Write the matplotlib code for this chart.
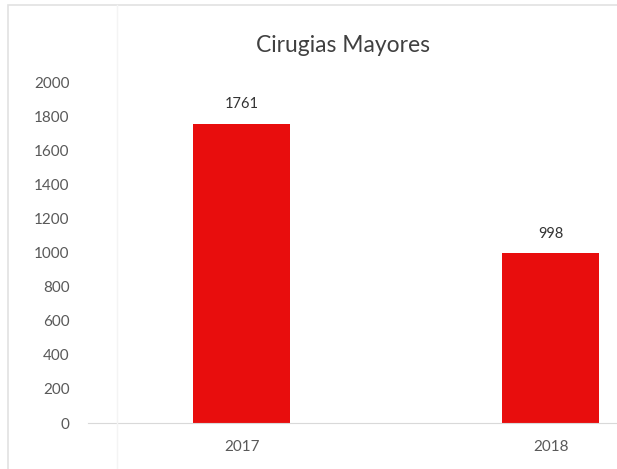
import matplotlib.pyplot as plt
from matplotlib.patches import Rectangle

years = ["2017", "2018"]
values = [1761, 998]
yticks = [0, 200, 400, 600, 800, 1000, 1200, 1400, 1600, 1800, 2000]

plt.rcParams['font.family'] = ['Lato', 'DejaVu Sans']

fig = plt.figure(figsize=(6.17, 4.69), dpi=100)
ax = fig.add_axes([87.5 / 617, 1 - 423 / 469, 1 - 87.5 / 617, (423 - 83) / 469])

x = list(range(len(years)))
bars = ax.bar(x, values, width=0.314, color="#e80d0d")
for b, v in zip(bars, values):
    ax.text(b.get_x() + b.get_width() / 2, v + 75, str(v), ha="center", va="bottom",
            fontsize=10.5, color="#333333")

ax.set_xlim(-0.5, 1.214)
ax.set_ylim(0, 2000)
ax.set_yticks(yticks)
ax.set_xticks(x)
ax.set_xticklabels(years)
ax.tick_params(axis="both", length=0, labelsize=11, colors="#595959")
ax.tick_params(axis="y", pad=13)
ax.tick_params(axis="x", pad=12)
for s in ["top", "right", "left"]:
    ax.spines[s].set_visible(False)
ax.spines["bottom"].set_color("#d9d9d9")
ax.set_facecolor("none")

fig.text(343 / 617, 1 - 45 / 469, "Cirugias Mayores", ha="center", va="center",
         fontsize=16.5, color="#404040")

# chart border from the scan
fig.patches.append(Rectangle((8 / 617, -0.05), 1.1, 1 - 5 / 469 + 0.05, transform=fig.transFigure,
                             fill=False, edgecolor="#e2e2e2", lw=1.2))
fig.add_artist(plt.Line2D([117 / 617, 117 / 617], [0, 1 - 5 / 469], color="#f4f4f4", lw=1))

fig.savefig("out.png", dpi=100)
